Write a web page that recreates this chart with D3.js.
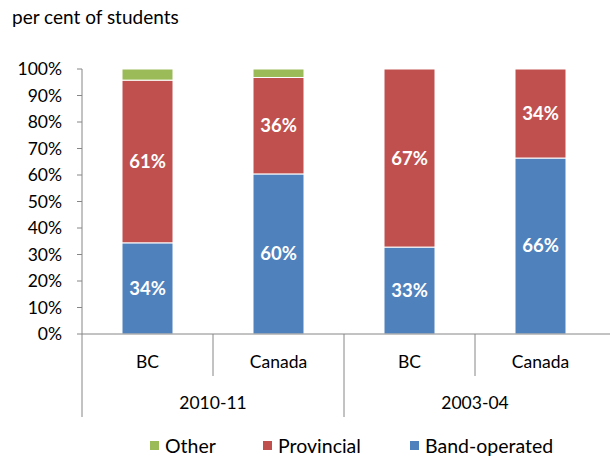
<!DOCTYPE html>
<html><head><meta charset="utf-8">
<script src="https://cdn.jsdelivr.net/npm/d3@7"></script>
<style>body{margin:0;background:#fff;}svg{display:block;font-family:Lato,"Open Sans",sans-serif;}</style>
</head><body>
<svg id="c" width="610" height="457"></svg>
<script>
const categories = ["BC","Canada","BC","Canada"];
const years = ["2010-11","2003-04"];
const bandOperated = [34.4, 60.4, 32.8, 66.4];
const provincial = [61.4, 36.4, 67.2, 33.6];
const other = [4.2, 3.2, 0, 0];
const bandLabels = ["34%","60%","33%","66%"];
const provLabels = ["61%","36%","67%","34%"];
const yTicks = [0,10,20,30,40,50,60,70,80,90,100];
const seriesNames = ["Other","Provincial","Band-operated"];
const colors = {"Band-operated":"#4F81BD","Provincial":"#C0504D","Other":"#9BBB59"};

const svg = d3.select("#c");
const x0 = 82, x1 = 606, yTop = 69, yBot = 334;
const x = d3.scaleBand().domain(d3.range(categories.length)).range([x0,x1]).paddingInner(0).paddingOuter(0);
const y = d3.scaleLinear().domain([0,100]).range([yBot,yTop]);
const barW = 51;
const axisColor = "#868686";

svg.append("text").attr("x",12).attr("y",24).attr("font-size",19).attr("fill","#000").text("per cent of students");

// y axis
const ya = svg.append("g");
yTicks.forEach(t=>{
  ya.append("line").attr("x1",x0-5).attr("x2",x0).attr("y1",y(t)).attr("y2",y(t)).attr("stroke",axisColor);
  ya.append("text").attr("x",x0-20).attr("y",y(t)).attr("dy","0.35em").attr("text-anchor","end").attr("font-size",17.5).attr("fill","#000").text(t+"%");
});
ya.append("line").attr("x1",x0).attr("x2",x0).attr("y1",yTop).attr("y2",417).attr("stroke",axisColor);

// bars
const rows = categories.map((c,i)=>({i,"Band-operated":bandOperated[i],"Provincial":provincial[i],"Other":other[i]}));
const stack = d3.stack().keys(["Band-operated","Provincial","Other"])(rows);
stack.forEach(s=>{
  svg.append("g").selectAll("rect").data(s.filter(d=>d[1]-d[0]>0)).join("rect")
    .attr("x",d=>x(d.data.i)+(x.bandwidth()-barW)/2)
    .attr("width",barW)
    .attr("y",d=>y(d[1]))
    .attr("height",d=>y(d[0])-y(d[1]))
    .attr("fill",colors[s.key])
    .attr("stroke","#fff").attr("stroke-width",1);
});
// labels
const lbl = (vals, labels, base) => {
  vals.forEach((v,i)=>{
    const b = base ? base[i] : 0;
    svg.append("text").attr("x",x(i)+x.bandwidth()/2).attr("y",y(b+v/2)).attr("dy","0.35em")
      .attr("text-anchor","middle").attr("font-size",18.5).attr("font-weight","bold").attr("fill","#fff").text(labels[i]);
  });
};
lbl(bandOperated, bandLabels, null);
lbl(provincial, provLabels, bandOperated);

// x axis
svg.append("line").attr("x1",x0).attr("x2",x1+4).attr("y1",yBot).attr("y2",yBot).attr("stroke",axisColor);
categories.forEach((c,i)=>{
  if(i>0){
    const long = i%2===0;
    svg.append("line").attr("x1",x(i)).attr("x2",x(i)).attr("y1",yBot).attr("y2",long?417:376).attr("stroke",axisColor);
  }
  svg.append("text").attr("x",x(i)+x.bandwidth()/2).attr("y",362).attr("dy","0.35em").attr("text-anchor","middle").attr("font-size",17.5).attr("fill","#000").text(c);
});
years.forEach((yr,j)=>{
  svg.append("text").attr("x",(x(2*j)+x(2*j+1)+x.bandwidth())/2).attr("y",403).attr("dy","0.35em").attr("text-anchor","middle").attr("font-size",17.5).attr("fill","#000").text(yr);
});

// legend
const legX = [150,263,410];
seriesNames.forEach((n,k)=>{
  svg.append("rect").attr("x",legX[k]).attr("y",441).attr("width",9).attr("height",9).attr("fill",colors[n]);
  svg.append("text").attr("x",legX[k]+15).attr("y",446).attr("dy","0.35em").attr("font-size",19.5).attr("fill","#000").text(n);
});
</script>
</body></html>
